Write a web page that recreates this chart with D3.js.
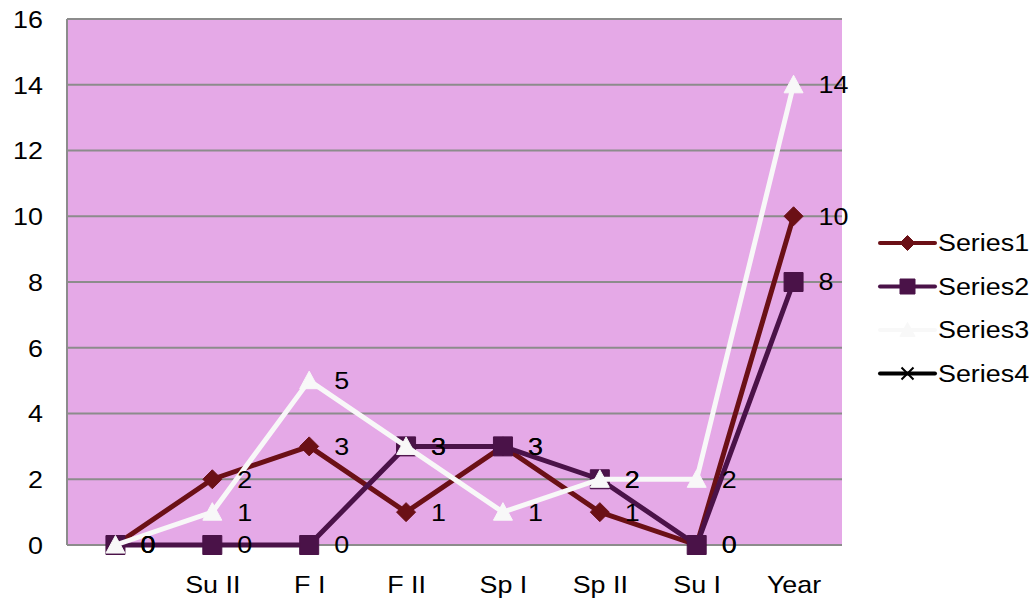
<!DOCTYPE html>
<html>
<head>
<meta charset="utf-8">
<script src="https://cdn.jsdelivr.net/npm/d3@7"></script>
<style>
  html, body { margin: 0; padding: 0; background: #ffffff; }
  svg { display: block; font-family: "Liberation Sans", Arial, sans-serif; }
</style>
</head>
<body>
<svg id="chart" width="1034" height="600"></svg>
<script>
const categories = ["", "Su II", "F I", "F II", "Sp I", "Sp II", "Su I", "Year"];
const series1 = [0, 2, 3, 1, 3, 1, 0, 10];
const series2 = [0, 0, 0, 3, 3, 2, 0, 8];
const series3 = [0, 1, 5, 3, 1, 2, 2, 14];
const series4 = [];
const seriesNames = ["Series1", "Series2", "Series3", "Series4"];
const yTicks = [0, 2, 4, 6, 8, 10, 12, 14, 16];

const seriesList = [
  { name: seriesNames[0], values: series1, color: "#6B1016", marker: "diamond" },
  { name: seriesNames[1], values: series2, color: "#4A1248", marker: "square" },
  { name: seriesNames[2], values: series3, color: "#F8F8F8", marker: "triangle" },
  { name: seriesNames[3], values: series4, color: "#000000", marker: "cross" }
];

const svg = d3.select("#chart");
const plot = { left: 67, right: 842, top: 19, bottom: 545 };
const fontSize = 24;
const stretch = 1.12;

const x = d3.scalePoint()
  .domain(d3.range(categories.length))
  .range([plot.left, plot.right])
  .padding(0.5);
const y = d3.scaleLinear().domain([0, 16]).range([plot.bottom, plot.top]);

// draws stretched text at (px, py)
function putText(parent, px, py, str, anchor) {
  return parent.append("text")
    .attr("transform", `translate(${px},${py}) scale(${stretch},1)`)
    .attr("dy", "0.35em")
    .attr("text-anchor", anchor || "start")
    .attr("font-size", fontSize)
    .attr("fill", "#000")
    .text(str);
}

// plot background
svg.append("rect")
  .attr("x", plot.left).attr("y", plot.top)
  .attr("width", plot.right - plot.left).attr("height", plot.bottom - plot.top)
  .attr("fill", "#E5A9E7");

// gridlines
svg.append("g")
  .selectAll("line")
  .data(yTicks)
  .join("line")
  .attr("x1", plot.left).attr("x2", plot.right)
  .attr("y1", d => y(d)).attr("y2", d => y(d))
  .attr("stroke", "#8C8C8C").attr("stroke-width", 2);

// left axis line
svg.append("line")
  .attr("x1", plot.left).attr("x2", plot.left)
  .attr("y1", plot.top).attr("y2", plot.bottom)
  .attr("stroke", "#8C8C8C").attr("stroke-width", 2);

// y axis labels (axis used for positions, text stretched)
const yAxis = d3.axisLeft(y).tickValues(yTicks).tickSize(0).tickPadding(0);
const yg = svg.append("g").attr("transform", `translate(${plot.left - 24},0)`).call(yAxis);
yg.select(".domain").remove();
yg.selectAll(".tick text").remove();
yg.selectAll(".tick").each(function(d) { putText(d3.select(this), 0, 0, d, "end"); });

// x axis labels
const xAxis = d3.axisBottom(x).tickFormat(i => categories[i]).tickSize(0).tickPadding(0);
const xg = svg.append("g").attr("transform", `translate(0,${plot.bottom + 40})`).call(xAxis);
xg.select(".domain").remove();
xg.selectAll(".tick text").remove();
xg.selectAll(".tick").each(function(d) { putText(d3.select(this), 0, 0, categories[d], "middle"); });

function markerPath(type, s) {
  const h = s / 2;
  if (type === "diamond") return `M0,${-h}L${h},0L0,${h}L${-h},0Z`;
  if (type === "square") return `M${-h},${-h}H${h}V${h}H${-h}Z`;
  if (type === "triangle") return `M0,${-h}L${h},${h * 0.85}L${-h},${h * 0.85}Z`;
  if (type === "cross") return `M${-h},${-h}L${h},${h}M${h},${-h}L${-h},${h}`;
  return "";
}
const markerSize = { diamond: 19, square: 19, triangle: 19, cross: 14 };

const line = d3.line().x((d, i) => x(i)).y(d => y(d));

seriesList.forEach(s => {
  if (!s.values.length) return;
  const g = svg.append("g");
  g.append("path")
    .attr("d", line(s.values))
    .attr("fill", "none")
    .attr("stroke", s.color)
    .attr("stroke-width", 5)
    .attr("stroke-linejoin", "round")
    .attr("stroke-linecap", "round");
  g.selectAll("path.m")
    .data(s.values)
    .join("path")
    .attr("class", "m")
    .attr("transform", (d, i) => `translate(${x(i)},${y(d)})`)
    .attr("d", markerPath(s.marker, markerSize[s.marker]))
    .attr("fill", s.color)
    .attr("stroke", s.color)
    .attr("stroke-width", 1);
});

// data labels
seriesList.forEach(s => {
  const g = svg.append("g");
  s.values.forEach((d, i) => putText(g, x(i) + 25, y(d), d));
});

// legend
const legend = svg.append("g");
const legendY0 = 243, legendStep = 43.5;
seriesList.forEach((s, i) => {
  const ly = legendY0 + i * legendStep;
  const g = legend.append("g");
  g.append("line")
    .attr("x1", 880).attr("x2", 935)
    .attr("y1", ly).attr("y2", ly)
    .attr("stroke", s.color).attr("stroke-width", 4)
    .attr("stroke-linecap", "round");
  g.append("path")
    .attr("transform", `translate(907.5,${ly})`)
    .attr("d", markerPath(s.marker, s.marker === "cross" ? 12 : 15))
    .attr("fill", s.marker === "cross" ? "none" : s.color)
    .attr("stroke", s.color)
    .attr("stroke-width", s.marker === "cross" ? 2 : 1);
  putText(g, 938, ly, s.name);
});
</script>
</body>
</html>
